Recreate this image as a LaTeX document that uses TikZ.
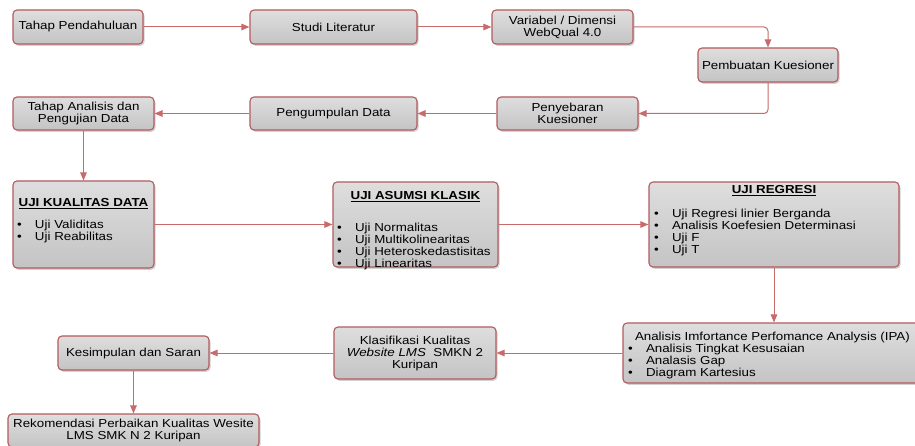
\documentclass[tikz,border=0pt]{standalone}
\usepackage{fontspec}
\setmainfont{Liberation Sans}[FakeStretch=1.15]
\usetikzlibrary{arrows.meta,shadows}
\definecolor{bordercol}{HTML}{B35A5E}
\definecolor{linecol}{HTML}{C96A6A}
\definecolor{filltop}{HTML}{DEDEDE}
\definecolor{fillbot}{HTML}{C4C4C4}
\newcommand{\lsitem}[2][4pt]{\par\hspace*{#1}\makebox[18pt][l]{\textbullet}#2}
\begin{document}
\begin{tikzpicture}[x=1pt,y=-1pt,
  box/.style={draw=bordercol, line width=1.1pt, rounded corners=4pt,
    top color=filltop, bottom color=fillbot, inner sep=0pt, align=center,
    font=\fontsize{11.6}{12}\selectfont,
    drop shadow={shadow xshift=1.5pt, shadow yshift=-1.8pt, opacity=0.25, fill=black!70}},
  conn/.style={draw=linecol, line width=1pt, rounded corners=4pt,
    -{Triangle[length=8pt,width=6.5pt]}},
]
\fill[white] (0,0) rectangle (915,446);
\useasboundingbox (0,0) rectangle (915,446);

\node[box, minimum width=130pt, minimum height=34pt] (b1) at (78,27) {Tahap Pendahuluan};
\node[box, minimum width=167pt, minimum height=34pt] (b2) at (333.5,27) {Studi Literatur};
\node[box, minimum width=141pt, minimum height=34pt] (b3) at (562.5,27) {Variabel / Dimensi\\WebQual 4.0};
\node[box, minimum width=140pt, minimum height=34pt] (b4) at (768,65) {Pembuatan Kuesioner};
\node[box, minimum width=141pt, minimum height=33pt] (b5) at (567.5,113.5) {Penyebaran\\Kuesioner};
\node[box, minimum width=167pt, minimum height=33pt] (b6) at (333.5,113.5) {Pengumpulan Data};
\node[box, minimum width=141pt, minimum height=33pt] (b7) at (83.5,113.5) {Tahap Analisis dan\\Pengujian Data};

\node[box] (b8) at (83.5,224.5) {\parbox[c][87pt][t]{141pt}{\centering\rule{0pt}{26pt}\underline{\textbf{UJI KUALITAS DATA}}\par\vspace{10pt}\raggedright
  \lsitem{Uji Validitas}\lsitem{Uji Reabilitas}}};
\node[box] (b9) at (415.5,224.5) {\parbox[c][85pt][t]{165pt}{\centering\rule{0pt}{18pt}\underline{\textbf{UJI ASUMSI KLASIK}}\par\vspace{20pt}\raggedright
  \lsitem{Uji Normalitas}\lsitem{Uji Multikolinearitas}\lsitem{Uji Heteroskedastisitas}\lsitem{Uji Linearitas}}};
\node[box] (b10) at (774,224.5) {\parbox[c][85pt][t]{250pt}{\centering\rule{0pt}{11.5pt}\underline{\textbf{UJI REGRESI}}\par\vspace{12pt}\raggedright
  \lsitem[5pt]{Uji Regresi linier Berganda}\lsitem[5pt]{Analisis Koefesien Determinasi}\lsitem[5pt]{Uji F}\lsitem[5pt]{Uji T}}};
\node[box] (b11) at (774,353) {\parbox[c][60pt][t]{302pt}{\raggedright\hspace*{12pt}\rule{0pt}{17.5pt}Analisis Imfortance Perfomance Analysis (IPA)
  \lsitem[5pt]{Analisis Tingkat Kesusaian}\lsitem[5pt]{Analasis Gap}\lsitem[5pt]{Diagram Kartesius}}};
\node[box, minimum width=162pt, minimum height=52pt] (b12) at (415,353) {Klasifikasi Kualitas\\\textit{Website LMS}\ \ SMKN 2\\Kuripan};
\node[box, minimum width=151pt, minimum height=34pt] (b13) at (133.5,353) {Kesimpulan dan Saran};
\node[box, minimum width=251pt, minimum height=33pt] (b14) at (133.5,430.5) {Rekomendasi Perbaikan Kualitas Wesite\\LMS SMK N 2 Kuripan};

\draw[conn] (b1) -- (b2);
\draw[conn] (b2) -- (b3);
\draw[conn] (b3.east) -| (b4.north);
\draw[conn] (b4.south) |- (b5.east);
\draw[conn] (b5) -- (b6);
\draw[conn] (b6) -- (b7);
\draw[conn] (b7) -- (b8);
\draw[conn] (b8) -- (b9);
\draw[conn] (b9) -- (b10);
\draw[conn] (b10) -- (b11);
\draw[conn] (b11.west) -- (b12.east);
\draw[conn] (b12) -- (b13);
\draw[conn] (b13) -- (b14);
\end{tikzpicture}
\end{document}
